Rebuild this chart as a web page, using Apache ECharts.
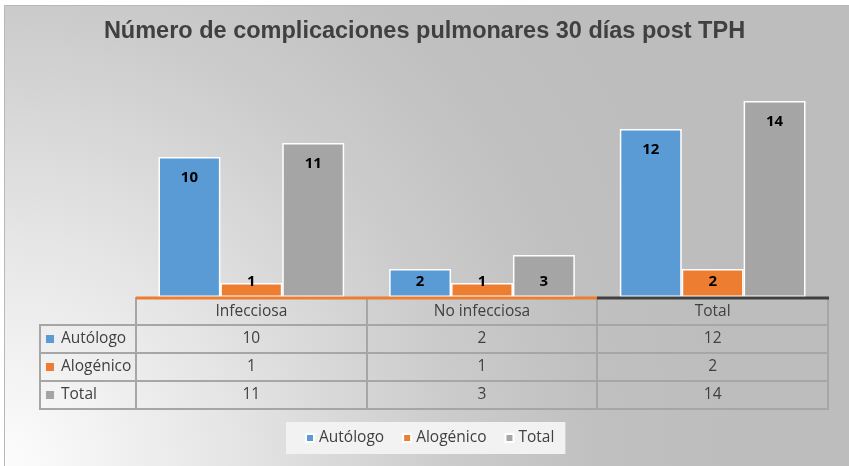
<!DOCTYPE html>
<html><head><meta charset="utf-8">
<script src="https://cdn.jsdelivr.net/npm/echarts@6/dist/echarts.min.js"></script>
<style>html,body{margin:0;padding:0;background:#fff}#c{width:849px;height:466px}</style>
</head><body><div id="c"></div>
<script>
const title = 'Número de complicaciones pulmonares 30 días post TPH';
const categories = ['Infecciosa', 'No infecciosa', 'Total'];
const seriesNames = ['Autólogo', 'Alogénico', 'Total'];
const autologo = [10, 2, 12];
const alogenico = [1, 1, 2];
const total = [11, 3, 14];
const colors = ['#5b9bd5', '#ed7d31', '#a5a5a5'];
const seriesData = [autologo, alogenico, total];

const W = 849, H = 466;
const G = { left: 136, right: 21, top: 73, bottom: 169 };
const FONT = '"Open Sans", sans-serif';
const TXT = '#404040';
const TS = 15.5;

const chart = echarts.init(document.getElementById('c'), null, { renderer: 'canvas' });

function itemData(vals) {
  return vals.map(v => v <= 3
    ? { value: v, label: { position: 'insideBottom', distance: 8 } }
    : { value: v, label: { position: 'insideTop', distance: 13 } });
}

const gx0 = G.left, gx1 = W - G.right;
const band = (gx1 - gx0) / categories.length;
const baseY = H - G.bottom;
const headerH = 28, rowH = 28, labelX0 = 40;
const graphics = [];
graphics.push({ type: 'rect', shape: { x: 0, y: 0, width: W, height: 5 }, style: { fill: '#ffffff' }, silent: true });
graphics.push({ type: 'rect', shape: { x: 0, y: 0, width: 4, height: H }, style: { fill: '#ffffff' }, silent: true });
graphics.push({ type: 'polyline', shape: { points: [[4.5, H], [4.5, 5.5], [W, 5.5]] }, style: { stroke: '#b8b8b8', lineWidth: 1, fill: null }, silent: true });
const lineStyle = { stroke: '#a6a6a6', lineWidth: 2 };
const tableBottom = baseY + headerH + rowH * seriesNames.length;
for (let i = 0; i <= categories.length; i++) {
  const x = Math.round(gx0 + band * i);
  graphics.push({ type: 'line', shape: { x1: x, y1: baseY, x2: x, y2: tableBottom }, style: lineStyle, silent: true });
}
graphics.push({ type: 'line', shape: { x1: labelX0, y1: baseY + headerH - 1, x2: labelX0, y2: tableBottom + 1 }, style: lineStyle, silent: true });
for (let r = 1; r <= seriesNames.length; r++) {
  const y = baseY + headerH + rowH * (r - 1);
  graphics.push({ type: 'line', shape: { x1: labelX0, y1: y, x2: gx1 + 1, y2: y }, style: lineStyle, silent: true });
}
graphics.push({ type: 'line', shape: { x1: labelX0, y1: tableBottom, x2: gx1 + 1, y2: tableBottom }, style: lineStyle, silent: true });
graphics.push({ type: 'line', shape: { x1: gx0, y1: baseY + 1, x2: Math.round(gx0 + band * 2), y2: baseY + 1 }, style: { stroke: '#ed7d31', lineWidth: 3 }, silent: true, z: 5 });
graphics.push({ type: 'line', shape: { x1: Math.round(gx0 + band * 2), y1: baseY + 1, x2: gx1 + 1, y2: baseY + 1 }, style: { stroke: '#404040', lineWidth: 3 }, silent: true, z: 5 });
categories.forEach((c, i) => {
  graphics.push({ type: 'text', x: gx0 + band * (i + 0.5), y: baseY + headerH / 2 + 1, style: { text: c, font: TS + 'px ' + FONT, fill: TXT, align: 'center', verticalAlign: 'middle' }, silent: true });
});
seriesNames.forEach((n, r) => {
  const yc = baseY + headerH + rowH * r + rowH / 2;
  graphics.push({ type: 'rect', shape: { x: 46, y: yc - 4, width: 8, height: 8 }, style: { fill: colors[r] }, silent: true });
  graphics.push({ type: 'text', x: 61, y: yc, style: { text: n, font: TS + 'px ' + FONT, fill: TXT, align: 'left', verticalAlign: 'middle' }, silent: true });
  seriesData[r].forEach((v, i) => {
    graphics.push({ type: 'text', x: gx0 + band * (i + 0.5), y: yc, style: { text: String(v), font: TS + 'px ' + FONT, fill: TXT, align: 'center', verticalAlign: 'middle' }, silent: true });
  });
});

const option = {
  backgroundColor: {
    type: 'radial', x: 0, y: 1, r: 1.6,
    colorStops: [
      { offset: 0, color: '#fdfdfd' },
      { offset: 0.3, color: '#e6e6e6' },
      { offset: 0.6, color: '#cccccc' },
      { offset: 0.8, color: '#c0c0c0' },
      { offset: 1, color: '#bdbdbd' }
    ]
  },
  animation: false,
  title: {
    text: title, left: 'center', top: 15,
    textStyle: { fontFamily: '"Liberation Sans", Arial, sans-serif', fontWeight: 'bold', fontSize: 23.5, color: TXT }
  },
  legend: {
    data: seriesNames, left: 286, top: 422,
    icon: 'rect', itemWidth: 8, itemHeight: 8, itemGap: 18,
    backgroundColor: '#f2f2f2', padding: [8, 11, 8, 19],
    textStyle: { fontFamily: FONT, fontSize: TS, color: TXT }
  },
  grid: G,
  xAxis: {
    type: 'category', data: categories,
    axisLine: { show: false }, axisTick: { show: false }, axisLabel: { show: false }
  },
  yAxis: { type: 'value', min: 0, max: 16, show: false, splitLine: { show: false } },
  graphic: graphics,
  series: seriesNames.map((n, k) => ({
    name: n, type: 'bar', data: itemData(seriesData[k]),
    barCategoryGap: '19.5%', barGap: '0%',
    itemStyle: { color: colors[k], borderColor: '#ffffff', borderWidth: 1.5 },
    label: { show: true, color: '#000', fontFamily: FONT, fontWeight: 'bold', fontSize: 15 }
  }))
};
chart.setOption(option);
</script></body></html>
